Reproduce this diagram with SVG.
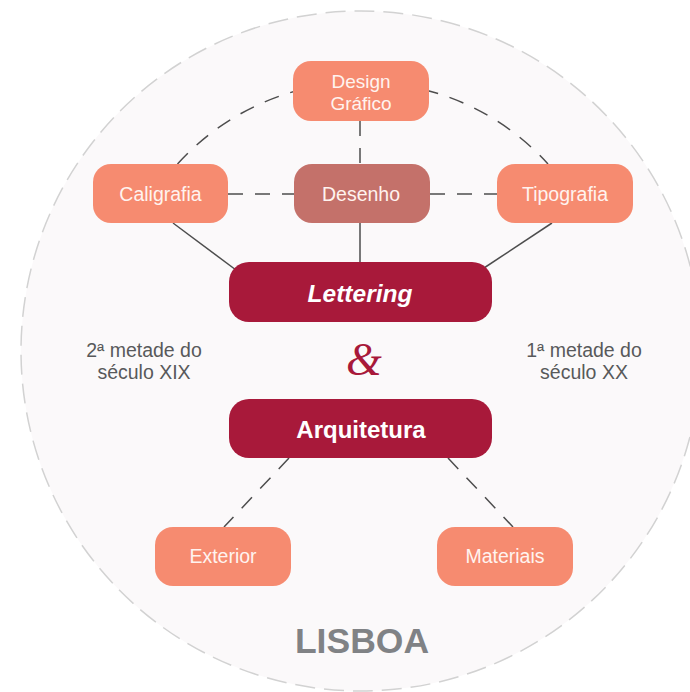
<svg xmlns="http://www.w3.org/2000/svg" width="690" height="692" viewBox="0 0 690 692">
<style>
.box{fill:#F68B70}
.dark{fill:#A8193A}
.t{font-family:"Liberation Sans",Arial,sans-serif;font-size:19.5px;fill:#FFF3EF;text-anchor:middle}
.t2{font-size:19px}
.big{font-family:"Liberation Sans",Arial,sans-serif;font-size:24px;fill:#FFFFFF;text-anchor:middle;font-weight:700}
.side{font-family:"Liberation Sans",Arial,sans-serif;font-size:19.5px;fill:#58595B;text-anchor:middle}
.solid{stroke:#4D4D4D;stroke-width:1.5;fill:none}
.dash{stroke:#4D4D4D;stroke-width:1.5;fill:none;stroke-dasharray:15 12}
</style>
<rect width="690" height="692" fill="#FFFFFF"/>
<circle cx="361" cy="351" r="340" fill="#FBF9FA" stroke="#D2D2D2" stroke-width="1.5" stroke-dasharray="20 9"/>
<g id="connectors">
<path class="dash" d="M177.5,164 A250,250 0 0 1 548,164"/>
<line class="dash" x1="228" y1="194" x2="294" y2="194"/>
<line class="dash" x1="430" y1="194" x2="497" y2="194"/>
<line class="dash" x1="360" y1="121" x2="360" y2="164"/>
<line class="solid" x1="173" y1="223" x2="236" y2="270"/>
<line class="solid" x1="360" y1="223" x2="360" y2="262"/>
<line class="solid" x1="552" y1="223" x2="484" y2="268"/>
<line class="dash" x1="289" y1="458" x2="224" y2="527"/>
<line class="dash" x1="448" y1="458" x2="513" y2="527"/>
</g>
<g id="design"><rect class="box" x="293" y="61" width="136" height="60" rx="18"/><text class="t t2"><tspan x="361" y="88">Design</tspan><tspan x="361" y="110">Gráfico</tspan></text></g>
<g id="caligrafia"><rect class="box" x="93" y="164" width="135" height="59" rx="18"/><text class="t" x="160.5" y="201">Caligrafia</text></g>
<g id="desenho"><rect x="294" y="164" width="136" height="59" rx="18" fill="#C4716A"/><text class="t" x="361" y="201">Desenho</text></g>
<g id="tipografia"><rect class="box" x="497" y="164" width="136" height="59" rx="18"/><text class="t" x="565" y="201">Tipografia</text></g>
<g id="lettering"><rect class="dark" x="229" y="262" width="263" height="60" rx="20"/><text class="big" x="360" y="302" font-style="italic" style="font-size:24.5px">Lettering</text></g>
<g id="amp"><text x="364" y="375" font-family="Liberation Serif,serif" font-style="italic" font-size="46" fill="#A8193A" text-anchor="middle">&amp;</text></g>
<g id="left-note"><text class="side"><tspan x="144" y="357">2ª metade do</tspan><tspan x="144" y="379">século XIX</tspan></text></g>
<g id="right-note"><text class="side"><tspan x="584" y="357">1ª metade do</tspan><tspan x="584" y="379">século XX</tspan></text></g>
<g id="arquitetura"><rect class="dark" x="229" y="399" width="263" height="59" rx="20"/><text class="big" x="361" y="438">Arquitetura</text></g>
<g id="exterior"><rect class="box" x="155" y="527" width="136" height="59" rx="18"/><text class="t" x="223" y="563">Exterior</text></g>
<g id="materiais"><rect class="box" x="437" y="527" width="136" height="59" rx="18"/><text class="t" x="505" y="563">Materiais</text></g>
<g id="lisboa"><text x="362" y="653" font-family="Liberation Sans,Arial,sans-serif" font-weight="700" font-size="35.5" fill="#808285" text-anchor="middle">LISBOA</text></g>
</svg>
